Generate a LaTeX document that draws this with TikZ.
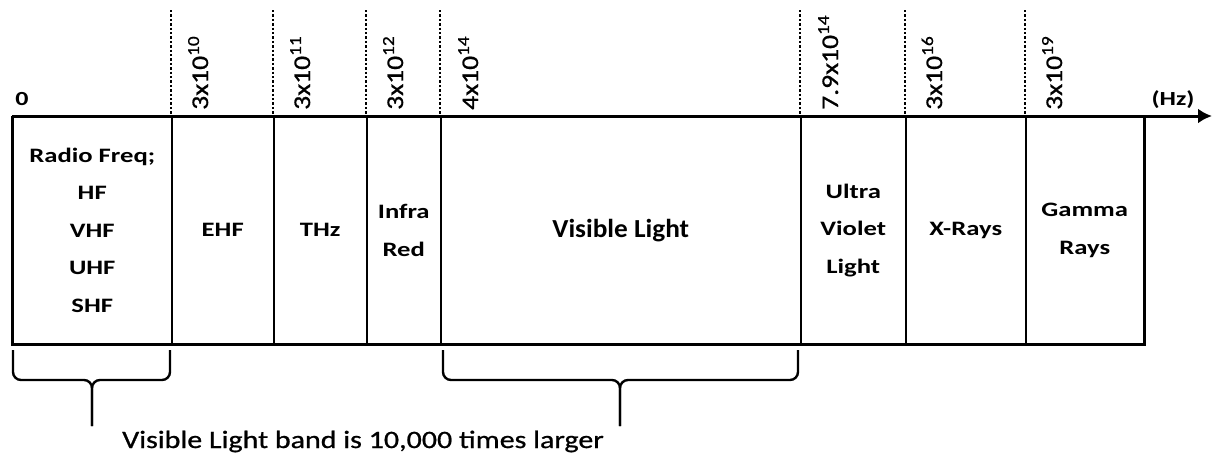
\documentclass[tikz,border=0pt]{standalone}
\usepackage{fontspec}
\setmainfont{Carlito}
\newfontfamily\cellfont{Carlito}[FakeStretch=1.3]
\newfontfamily\vlfont{Carlito}[FakeStretch=1.05]
\newfontfamily\rotfont{Carlito}[FakeStretch=1.15,FakeBold=0.8]
\newfontfamily\notefont{Carlito}[FakeStretch=1.2,FakeBold=0.8]
\usetikzlibrary{arrows.meta}
\tikzset{
  cell/.style={draw, line width=1.5pt, minimum height=227pt, inner sep=0pt,
    anchor=north west, align=center,
    font=\cellfont\bfseries\fontsize{20.5}{37.5}\selectfont},
  outer/.style={line width=3pt},
  axisline/.style={line width=3pt, -{Latex[length=14pt,width=15pt]}},
  dotline/.style={line width=2.6pt, dash pattern=on 2.4pt off 2pt},
  freqlabel/.style={rotate=90, anchor=base west, inner sep=0pt,
    font=\rotfont\fontsize{24}{24}\selectfont},
  axislabel/.style={anchor=base, inner sep=0pt,
    font=\cellfont\bfseries\fontsize{20}{20}\selectfont},
  bracepath/.style={line width=2.4pt, rounded corners=8pt},
  note/.style={anchor=base west, inner sep=0pt,
    font=\notefont\fontsize{25}{25}\selectfont}
}
\begin{document}
\begin{tikzpicture}[x=1pt,y=-1pt]
\useasboundingbox (0,0) rectangle (1212,456);
% cells
\node[cell, minimum width=159pt] (rf) at (12,116) {Radio Freq;\\HF\\VHF\\UHF\\SHF};
\node[cell, minimum width=102pt] (ehf) at (171,116) {EHF};
\node[cell, minimum width=93pt] (thz) at (273,116) {THz};
\node[cell, minimum width=74pt] (ir) at (366,116) {Infra\\Red};
\node[cell, minimum width=360pt, font=\vlfont\bfseries\fontsize{26}{30}\selectfont] (vl) at (440,116) {Visible Light};
\node[cell, minimum width=105pt] (uv) at (800,116) {Ultra\\Violet\\Light};
\node[cell, minimum width=120pt] (xr) at (905,116) {X-Rays};
\node[cell, minimum width=118pt] (gr) at (1025,116) {Gamma\\Rays};
% outer frame and axis
\coordinate (axend) at (1212,116);
\draw[outer] (rf.north west) -- (rf.south west) -- (gr.south east) -- (gr.north east);
\draw[axisline] (rf.north west) -- (axend);
% dotted lines
\coordinate (t1) at (171,10);
\coordinate (t2) at (273,10);
\coordinate (t3) at (366,10);
\coordinate (t4) at (440,10);
\coordinate (t5) at (800,10);
\coordinate (t6) at (905,10);
\coordinate (t7) at (1025,10);
\draw[dotline] (t1) -- (ehf.north west);
\draw[dotline] (t2) -- (thz.north west);
\draw[dotline] (t3) -- (ir.north west);
\draw[dotline] (t4) -- (vl.north west);
\draw[dotline] (t5) -- (uv.north west);
\draw[dotline] (t6) -- (xr.north west);
\draw[dotline] (t7) -- (gr.north west);
% frequency labels
\node[freqlabel] (f1) at (208,110) {3x10\textsuperscript{10}};
\node[freqlabel] (f2) at (310,110) {3x10\textsuperscript{11}};
\node[freqlabel] (f3) at (403,110) {3x10\textsuperscript{12}};
\node[freqlabel] (f4) at (478,110) {4x10\textsuperscript{14}};
\node[freqlabel] (f5) at (838,110) {7.9x10\textsuperscript{14}};
\node[freqlabel] (f6) at (942,110) {3x10\textsuperscript{16}};
\node[freqlabel] (f7) at (1062,110) {3x10\textsuperscript{19}};
\node[axislabel] (zero) at (22,105) {0};
\node[axislabel] (hz) at (1173,105) {(Hz)};
% braces
\coordinate (b1l) at (13,350);
\coordinate (b1r) at (170,350);
\coordinate (b1t) at (92,426);
\coordinate (b2l) at (443,350);
\coordinate (b2r) at (798,350);
\coordinate (b2t) at (620,426);
\draw[bracepath] (b1l) -- (13,380) -- (92,380) -- (b1t);
\draw[bracepath] (b1r) -- (170,380) -- (92,380) -- (b1t);
\draw[bracepath] (b2l) -- (443,380) -- (620,380) -- (b2t);
\draw[bracepath] (b2r) -- (798,380) -- (620,380) -- (b2t);
\node[note] (txt) at (122,448) {Visible Light band is 10,000 times larger};
\end{tikzpicture}
\end{document}
